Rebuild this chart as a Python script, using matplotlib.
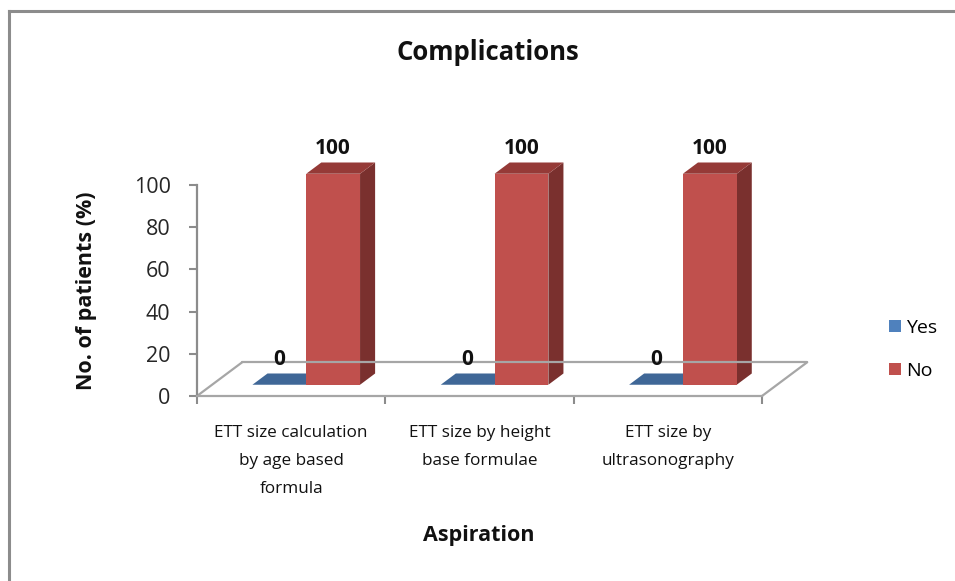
import matplotlib
matplotlib.use("Agg")
import matplotlib.pyplot as plt
from matplotlib.patches import Polygon, Patch
from matplotlib.lines import Line2D

plt.rcParams['font.family'] = ['Open Sans', 'DejaVu Sans']

# ---- data ----
categories = ["ETT size calculation\nby age based\nformula",
              "ETT size by height\nbase formulae",
              "ETT size by\nultrasonography"]
series_names = ["Yes", "No"]
yes_values = [0, 0, 0]
no_values = [100, 100, 100]
y_ticks = [0, 20, 40, 60, 80, 100]

title = "Complications"
x_title = "Aspiration"
y_title = "No. of patients (%)"

# ---- style ----
face_colors = {
    "Yes": ("#4F81BD", "#3F6797", "#30507A"),   # front, top, side
    "No": ("#C0504D", "#953A37", "#7A302E"),
}
grid_gray = "#A6A6A6"
axis_gray = "#8C8C8C"
text_dark = "#111111"

W, H = 955, 581
fig = plt.figure(figsize=(W / 100, H / 100), dpi=100)
fig.patch.set_facecolor("white")

# outer chart-area border: only its left and top edges fall on the canvas
border_kw = dict(transform=fig.transFigure, color="#8C8C8C", linewidth=2.2)
fig.add_artist(Line2D([8.5 / W, 8.5 / W], [-0.05, 1 - 10.5 / H], **border_kw))
fig.add_artist(Line2D([8.5 / W, 1.05], [1 - 10.5 / H, 1 - 10.5 / H], **border_kw))

# front plane of the 3-D box
ax = fig.add_axes([197 / W, 1 - 396 / H, 565 / W, 211 / H])
ax.set_xlim(0, len(categories))
ax.set_ylim(0, 100)
ax.patch.set_visible(False)
for side in ("top", "right"):
    ax.spines[side].set_visible(False)
ax.spines["left"].set_color(axis_gray)
ax.spines["left"].set_linewidth(1.6)
ax.spines["bottom"].set_color(grid_gray)
ax.spines["bottom"].set_linewidth(1.6)

ax.set_yticks(y_ticks)
ax.tick_params(axis="y", direction="out", length=6, width=1.5,
               color=axis_gray, pad=13, labelsize=15.5, labelcolor="#262626")

# category boundary ticks + centred category labels
ax.set_xticks(range(len(categories) + 1))
ax.set_xticklabels([])
ax.set_xticks([i + 0.5 for i in range(len(categories))], minor=True)
ax.set_xticklabels(categories, minor=True, fontsize=12.3, color=text_dark,
                   linespacing=2.0)
ax.tick_params(axis="x", which="major", direction="out", length=6,
               width=1.5, color=axis_gray)
ax.tick_params(axis="x", which="minor", length=0, pad=21)

# depth of the floor (in data units of the front plane)
DX, DY = 0.24, 16.0
n = len(categories)

# floor outline (left, back and right edges; front edge is the spine)
floor_kw = dict(color=grid_gray, linewidth=1.6, clip_on=False,
                solid_capstyle="round")
ax.add_line(Line2D([0, DX], [0, DY], **floor_kw))
ax.add_line(Line2D([DX, n + DX], [DY, DY], **floor_kw))
ax.add_line(Line2D([n, n + DX], [0, DY], **floor_kw))

# bars sit in the middle third of the floor depth
bx, by = DX / 3, DY / 3
bar_w = 1 / 3.5  # gap width 150 %


def draw_bar(x0, value, colors):
    front, top, side = colors
    x1 = x0 + bar_w
    fx0, fx1 = x0 + bx, x1 + bx
    y0 = by
    yt = by + value
    kw = dict(clip_on=False, linewidth=0)
    ax.add_patch(Polygon([(fx1, y0), (fx1 + bx, y0 + by),
                          (fx1 + bx, yt + by), (fx1, yt)],
                         facecolor=side, **kw))
    ax.add_patch(Polygon([(fx0, yt), (fx1, yt),
                          (fx1 + bx, yt + by), (fx0 + bx, yt + by)],
                         facecolor=top, **kw))
    ax.add_patch(Polygon([(fx0, y0), (fx1, y0), (fx1, yt), (fx0, yt)],
                         facecolor=front, **kw))
    ax.annotate(f"{value:g}", xy=((fx0 + fx1) / 2, yt), xytext=(0, 18.5),
                textcoords="offset points", ha="center", va="center",
                fontsize=15, fontweight="bold", color=text_dark,
                annotation_clip=False)


for i in range(n):
    c = i + 0.5
    draw_bar(c - bar_w, yes_values[i], face_colors["Yes"])
    draw_bar(c, no_values[i], face_colors["No"])

# titles
fig.text(488 / W, 1 - 52 / H, title, ha="center", va="center",
         fontsize=18.5, fontweight="bold", color=text_dark)
fig.text(479 / W, 1 - 536 / H, x_title, ha="center", va="center",
         fontsize=15.5, fontweight="bold", color=text_dark)
ax.set_ylabel(y_title, fontsize=15.5, fontweight="bold", color=text_dark)
ax.yaxis.set_label_coords(-100 / 565, 0.5)

# legend
handles = [Patch(facecolor=face_colors[s][0], edgecolor="none")
           for s in series_names]
ax.legend(handles, series_names, loc="center left",
          bbox_to_anchor=(889 / W, 1 - 349.5 / H),
          bbox_transform=fig.transFigure, frameon=False, fontsize=14,
          handlelength=0.6, handleheight=0.6, handletextpad=0.3,
          labelspacing=1.3, borderpad=0, borderaxespad=0)

fig.savefig("out.png", dpi=100, facecolor="white")
